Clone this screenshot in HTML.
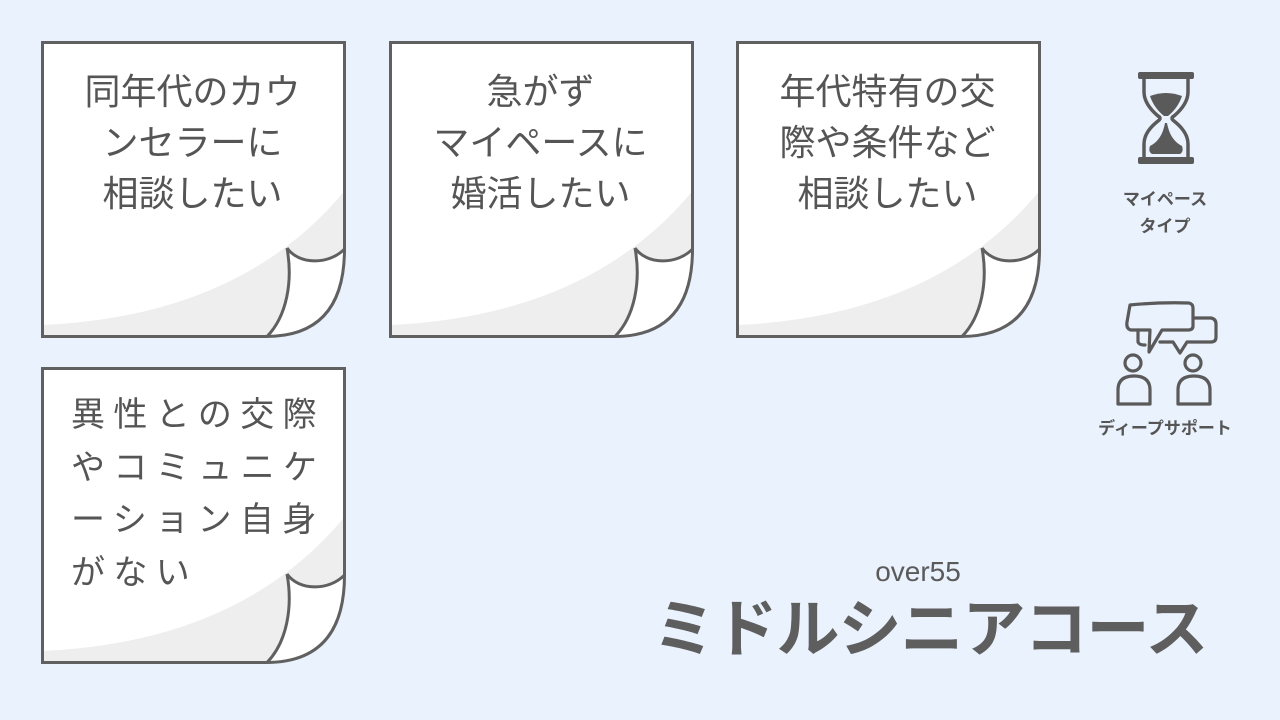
<!DOCTYPE html>
<html><head><meta charset="utf-8"><style>
html,body{margin:0;padding:0}
body{width:1280px;height:720px;background:#eaf2fd;position:relative;overflow:hidden;font-family:"Liberation Sans","Noto Sans CJK JP",sans-serif;color:#555}
.note{position:absolute;width:305px;height:297px}
.note svg{position:absolute;left:0;top:0}
.t{position:absolute;left:0;top:25px;width:303px;text-align:center;font-size:36px;line-height:51px;color:#555}
.t4{position:absolute;left:30px;top:22px;font-size:34px;line-height:52.5px;letter-spacing:8.4px;color:#555}
.lbl{position:absolute;font-size:17px;font-weight:bold;color:#555;text-align:center;line-height:27px}
</style></head><body>

<svg width="0" height="0" style="position:absolute"><defs>
<g id="paper">
<path d="M1.5,1.5 H303.5 V213 Q303.5,295.5 225,295.5 H1.5 Z" fill="#fff"/>
<path d="M1.5,284 Q200,275 303.5,150 V213 Q303.5,295.5 225,295.5 H1.5 Z" fill="#eeeeee"/>
<path d="M246,207 C258,224 288,224 303.5,208 Q303.5,295.5 226,295.5 C246,275 252,240 246,207 Z" fill="#fff"/>
<path d="M1.5,1.5 H303.5 V208 Q303.5,295.5 225,295.5 H1.5 Z" fill="none" stroke="#606060" stroke-width="3"/>
<path d="M246,207 C258,224 288,224 303.5,208 M246,207 C252,240 246,275 226,295.5" fill="none" stroke="#606060" stroke-width="3"/>
</g></defs></svg>

<div class="note" style="left:41px;top:41px"><svg width="305" height="297"><use href="#paper"/></svg>
<div class="t">同年代のカウ<br>ンセラーに<br>相談したい</div></div>
<div class="note" style="left:389px;top:41px"><svg width="305" height="297"><use href="#paper"/></svg>
<div class="t">急がず<br>マイペースに<br>婚活したい</div></div>
<div class="note" style="left:736px;top:41px"><svg width="305" height="297"><use href="#paper"/></svg>
<div class="t">年代特有の交<br>際や条件など<br>相談したい</div></div>
<div class="note" style="left:41px;top:367px"><svg width="305" height="297"><use href="#paper"/></svg>
<div class="t4">異性との交際<br>やコミュニケ<br>ーション自身<br>がない</div></div>

<!-- hourglass -->
<svg style="position:absolute;left:1130px;top:68px" width="80" height="100" viewBox="0 0 80 100">
<rect x="8" y="4" width="56" height="7" rx="2" fill="#5a5a5a"/>
<rect x="8" y="89" width="56" height="7" rx="2" fill="#5a5a5a"/>
<path d="M14,11 V24 Q14,36 28,48 Q32,50 28,53 Q14,64 14,76 V89 M58,11 V24 Q58,36 44,48 Q40,50 44,53 Q58,64 58,76 V89" fill="none" stroke="#5a5a5a" stroke-width="3.5"/>
<path d="M20,28 Q36,22 52,28 Q48,40 38,48 H34 Q24,40 20,28 Z" fill="#5a5a5a"/>
<path d="M35,55 H37 Q40,72 52,78 Q54,84 50,86 H22 Q18,84 20,78 Q32,72 35,55 Z" fill="#5a5a5a"/>
</svg>
<div class="lbl" style="left:1100px;top:186px;width:130px">マイペース<br>タイプ</div>

<!-- support icon (page coords offset 1100,290) -->
<svg style="position:absolute;left:1100px;top:290px" width="130" height="125" viewBox="1100 290 130 125" fill="none" stroke="#5a5a5a" stroke-width="3.2" stroke-linejoin="round" stroke-linecap="round">
<path d="M1130,305 Q1160,302 1189,303 Q1193,304 1193,308 V326 Q1193,330 1188,330 H1162 L1149,352 L1150,330 H1131 Q1126,329 1127,322 Z"/>
<path d="M1138,330 V342 Q1139,345 1145,345"/>
<path d="M1193,318 H1211 Q1216,319 1216,324 V337 Q1216,342 1211,342 H1187 L1180,353 L1173,342 H1160"/>
<circle cx="1133" cy="363" r="8"/>
<path d="M1118,404 V390 Q1118,376 1134,376 Q1150,376 1150,390 V404 Z"/>
<circle cx="1193" cy="363" r="8"/>
<path d="M1178,404 V390 Q1178,376 1194,376 Q1210,376 1210,390 V404 Z"/>
</svg>
<div class="lbl" style="left:1080px;top:415px;width:170px">ディープサポート</div>

<div style="position:absolute;left:818px;top:556px;width:200px;text-align:center;font-size:28px;color:#5a5a5a">over55</div>
<div style="position:absolute;left:640px;top:590px;width:580px;text-align:center;font-size:63px;font-weight:bold;color:#5e5e5e;line-height:80px;letter-spacing:-1px">ミドルシニアコース</div>
</body></html>
